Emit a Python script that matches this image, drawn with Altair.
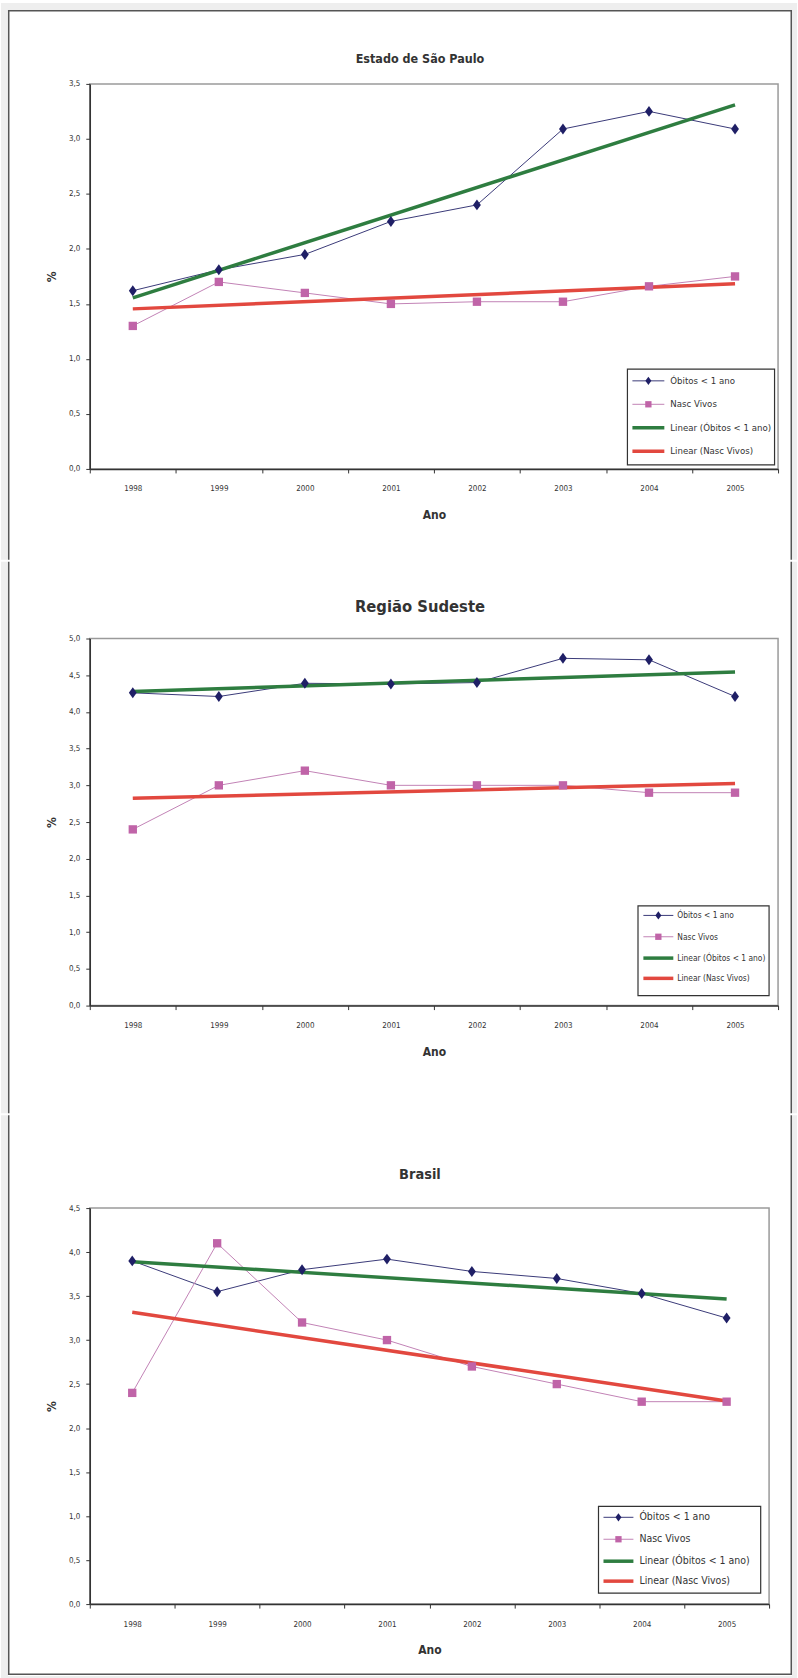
import altair as alt
import pandas as pd

# ---- data -------------------------------------------------------------
anos = [1998, 1999, 2000, 2001, 2002, 2003, 2004, 2005]

sp_obitos = [1.62, 1.81, 1.95, 2.25, 2.40, 3.09, 3.25, 3.09]
sp_nasc = [1.30, 1.70, 1.60, 1.50, 1.52, 1.52, 1.66, 1.75]

se_obitos = [4.26, 4.21, 4.39, 4.38, 4.40, 4.73, 4.71, 4.21]
se_nasc = [2.40, 3.00, 3.20, 3.00, 3.00, 3.00, 2.90, 2.90]

br_obitos = [3.90, 3.55, 3.80, 3.92, 3.78, 3.70, 3.53, 3.25]
br_nasc = [2.40, 4.10, 3.20, 3.00, 2.70, 2.50, 2.30, 2.30]

titulos = ["Estado de São Paulo", "Região Sudeste", "Brasil"]
legenda = ["Óbitos < 1 ano", "Nasc Vivos", "Linear (Óbitos < 1 ano)", "Linear (Nasc Vivos)"]

y_ticks_sp = [0.0, 0.5, 1.0, 1.5, 2.0, 2.5, 3.0, 3.5]
y_ticks_se = [0.0, 0.5, 1.0, 1.5, 2.0, 2.5, 3.0, 3.5, 4.0, 4.5, 5.0]
y_ticks_br = [0.0, 0.5, 1.0, 1.5, 2.0, 2.5, 3.0, 3.5, 4.0, 4.5]

# ---- style ------------------------------------------------------------
FONT = "Liberation Sans Narrow, DejaVu Sans Condensed, Arial Narrow, sans-serif"
NAVY_LINE = "#3a3a78"
NAVY_MK = "#1f1f66"
PINK_LINE = "#c283b6"
PINK_MK = "#c064a8"
GREEN = "#2e7d40"
RED = "#e2483f"
TXT = "#333333"
BORDER = "#555555"
MARGIN = "#eeeeee"
DIAMOND = "M0,-1L0.72,0L0,1L-0.72,0Z"

CANVAS_W = 798
PLOT_LEFT = 89      # left edge of every plot area on the page
TITLE_CENTER = 420  # horizontal centre of the panel titles on the page


def faixa(um, x0, x1, y0, y1, cor):
    """Filled rectangle in pixel coordinates of the panel."""
    return alt.Chart(um).mark_rect(color=cor).encode(
        x=alt.value(x0), x2=alt.value(x1), y=alt.value(y0), y2=alt.value(y1))


def painel(titulo, obitos, nasc, y_ticks, W, H, T, B, leg, primeiro, ultimo,
           title_y, title_size):
    d_ob = pd.DataFrame({"ano": anos, "valor": obitos})
    d_na = pd.DataFrame({"ano": anos, "valor": nasc})
    um = pd.DataFrame({"k": [0]})

    xs = alt.Scale(type="band", domain=anos, paddingInner=0, paddingOuter=0)
    ys = alt.Scale(domain=[0, y_ticks[-1]], nice=False, zero=True)

    x_enc = alt.X(
        "ano:O", scale=xs, title="Ano",
        axis=alt.Axis(
            tickBand="extent", labelAngle=0, labelPadding=12, tickSize=4,
            labelFont=FONT, labelFontSize=8, labelColor=TXT, labelOverlap=False,
            titleFont=FONT, titleFontSize=12, titleFontWeight="bold", titleColor=TXT,
            titleY=46, titleBaseline="middle",
            domainColor="#333333", domainWidth=1.5, tickColor="#333333",
        ),
    )
    y_enc = alt.Y(
        "valor:Q", scale=ys, title="%",
        axis=alt.Axis(
            values=y_ticks, tickCount=len(y_ticks), grid=False, tickSize=4, labelPadding=6,
            labelOverlap=False, labelFlush=False,
            labelExpr="replace(format(datum.value, '.1f'), '.', ',')",
            labelFont=FONT, labelFontSize=8, labelColor=TXT,
            titleFont=FONT, titleFontSize=12, titleFontWeight="bold", titleColor=TXT,
            titleX=-38, titleY=H / 2, titleAngle=270, titleBaseline="middle",
            domainColor="#333333", domainWidth=1.5, tickColor="#333333",
        ),
    )
    xo = alt.X("ano:O")
    yo = alt.Y("valor:Q")

    camadas = []

    # page frame: light grey margins and a dark border line
    L = -PLOT_LEFT
    R = CANVAS_W - PLOT_LEFT
    camadas.append(faixa(um, L, L + 7, -T, H + B, MARGIN))
    camadas.append(faixa(um, R - 5, R, -T, H + B, MARGIN))
    top_line = -T + (7 if primeiro else 0)
    bot_line = H + B - (6 if ultimo else 0)
    camadas.append(faixa(um, L + 7, L + 8.5, top_line, bot_line, BORDER))
    camadas.append(faixa(um, R - 6.5, R - 5, top_line, bot_line, BORDER))
    if primeiro:
        camadas.append(faixa(um, L, R, -T, -T + 7, MARGIN))
        camadas.append(faixa(um, L + 7, R - 5, -T + 7, -T + 8.5, BORDER))
    if ultimo:
        camadas.append(faixa(um, L, R, H + B - 5, H + B, MARGIN))
        camadas.append(faixa(um, L + 7, R - 5, H + B - 7.5, H + B - 6, BORDER))

    # panel title
    camadas.append(alt.Chart(um).mark_text(text=titulo, align="center", baseline="middle",
                                           font=FONT, fontSize=title_size, fontWeight="bold",
                                           color=TXT).encode(
        x=alt.value(TITLE_CENTER - PLOT_LEFT), y=alt.value(title_y)))

    # data series
    camadas.append(alt.Chart(d_ob).mark_line(color=NAVY_LINE, strokeWidth=1).encode(x=x_enc, y=y_enc))
    camadas.append(alt.Chart(d_na).mark_line(color=PINK_LINE, strokeWidth=1).encode(x=xo, y=yo))

    # linear trend lines
    camadas.append(alt.Chart(d_ob).transform_regression("ano", "valor", method="linear")
                   .mark_line(color=GREEN, strokeWidth=3.5).encode(x=xo, y=yo))
    camadas.append(alt.Chart(d_na).transform_regression("ano", "valor", method="linear")
                   .mark_line(color=RED, strokeWidth=3.5).encode(x=xo, y=yo))

    # markers
    camadas.append(alt.Chart(d_ob).mark_point(shape=DIAMOND, size=120, filled=True,
                                              color=NAVY_MK, opacity=1).encode(x=xo, y=yo))
    camadas.append(alt.Chart(d_na).mark_point(shape="square", size=70, filled=True,
                                              color=PINK_MK, opacity=1).encode(x=xo, y=yo))

    # legend box
    bx0, bx1, by0, by1, rows, sx0, sx1, tx, fs = leg
    camadas.append(alt.Chart(um).mark_rect(fill="white", stroke="#333333", strokeWidth=1.2).encode(
        x=alt.value(bx0), x2=alt.value(bx1), y=alt.value(by0), y2=alt.value(by1)))
    estilos = [(NAVY_LINE, 1, "diamond"), (PINK_LINE, 1, "square"), (GREEN, 3.5, None), (RED, 3.5, None)]
    for rotulo, yr, (cor, larg, marca) in zip(legenda, rows, estilos):
        camadas.append(alt.Chart(um).mark_rule(color=cor, strokeWidth=larg).encode(
            x=alt.value(sx0), x2=alt.value(sx1), y=alt.value(yr)))
        if marca == "diamond":
            camadas.append(alt.Chart(um).mark_point(shape=DIAMOND, size=70, filled=True,
                                                    color=NAVY_MK, opacity=1).encode(
                x=alt.value((sx0 + sx1) / 2), y=alt.value(yr)))
        elif marca == "square":
            camadas.append(alt.Chart(um).mark_point(shape="square", size=40, filled=True,
                                                    color=PINK_MK, opacity=1).encode(
                x=alt.value((sx0 + sx1) / 2), y=alt.value(yr)))
        camadas.append(alt.Chart(um).mark_text(text=rotulo, align="left", baseline="middle",
                                               font=FONT, fontSize=fs, color=TXT).encode(
            x=alt.value(tx), y=alt.value(yr)))

    return alt.layer(*camadas).properties(width=W, height=H)


p1 = painel(titulos[0], sp_obitos, sp_nasc, y_ticks_sp, 690, 386, 81, 91,
            (539, 686.5, 286, 382, [297.7, 321.2, 344.7, 368.3], 544, 576, 582, 9.6),
            True, False, -25.4, 12.5)
p2 = painel(titulos[1], se_obitos, se_nasc, y_ticks_se, 690, 368, 77, 108,
            (549.6, 681, 268, 358, [277.6, 299, 320.4, 340.7], 555, 585, 589, 8.4),
            False, False, -32, 16.5)
p3 = painel(titulos[2], br_obitos, br_nasc, y_ticks_br, 681, 397, 93, 77,
            (510, 672.6, 299, 386, [310, 332, 354, 374], 515, 545, 551, 10.5),
            False, True, -33.5, 14.5)

chart = alt.vconcat(p1, p2, p3, spacing=0).properties(padding=0, background="white").configure_view(
    stroke="#9a9a9a", strokeWidth=1.5
)

chart.save("out.html", embed_options={"renderer": "svg", "actions": False})
